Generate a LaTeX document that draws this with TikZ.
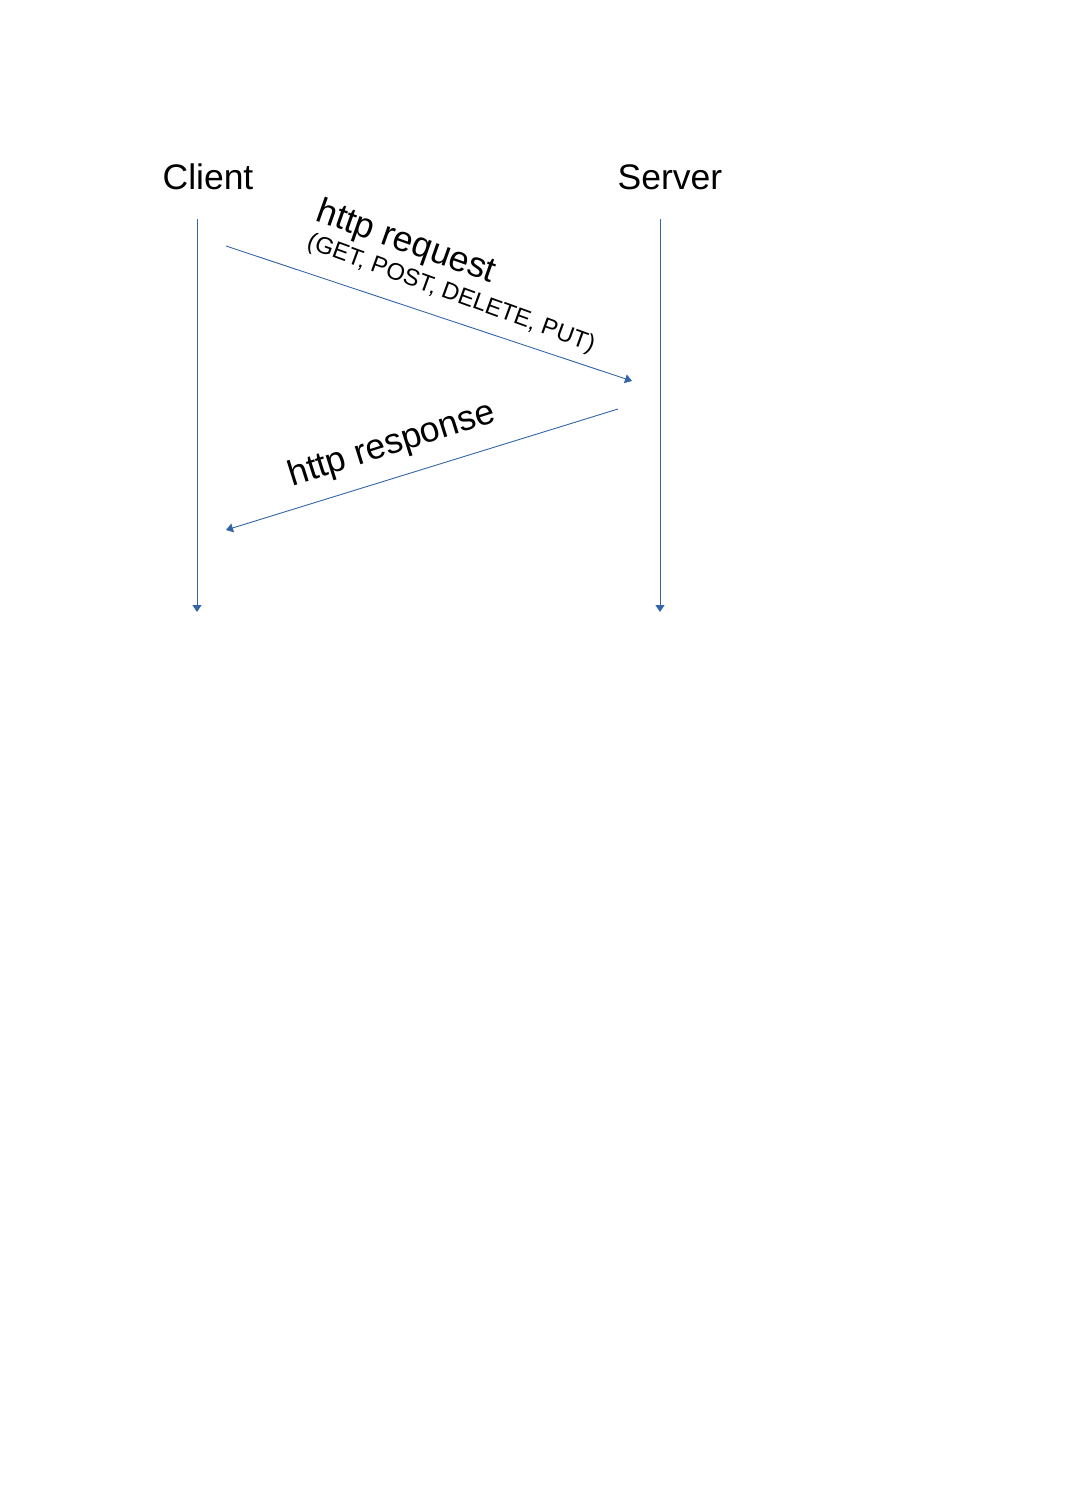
\documentclass[tikz,border=0pt]{standalone}
\usepackage{fontspec}
\setmainfont{Liberation Sans}
\usetikzlibrary{arrows.meta}
\definecolor{seqblue}{RGB}{52,101,168}
\begin{document}
\begin{tikzpicture}[x=1pt,y=-1pt,
  msg/.style={draw=seqblue,line width=0.9pt,-{Triangle[width=9pt,length=7pt]}},
  big/.style={inner sep=0pt,font=\fontsize{35.5}{40}\selectfont},
  small/.style={inner sep=0pt,font=\fontsize{23.8}{27}\selectfont}]
\useasboundingbox (0,0) rectangle (1067,1509);
\node[big] (client) at (208,177) {Client};
\node[big] (server) at (670,177) {Server};
\coordinate (c1) at (197,219);
\coordinate (c2) at (197,612);
\coordinate (s1) at (660,219);
\coordinate (s2) at (660,612);
\draw[msg] (c1) -- (c2);
\draw[msg] (s1) -- (s2);
\coordinate (rq1) at (226,246);
\coordinate (rq2) at (632,381);
\draw[msg] (rq1) -- (rq2);
\coordinate (rs1) at (618,409);
\coordinate (rs2) at (226,530);
\draw[msg] (rs1) -- (rs2);
\node[big,rotate=-19.5] (reqlabel) at (406,243) {http request};
\node[small,rotate=-20] (reqsub) at (451,294) {(GET, POST, DELETE, PUT)};
\node[big,rotate=17.5] (reslabel) at (392,445) {http response};
\end{tikzpicture}
\end{document}
